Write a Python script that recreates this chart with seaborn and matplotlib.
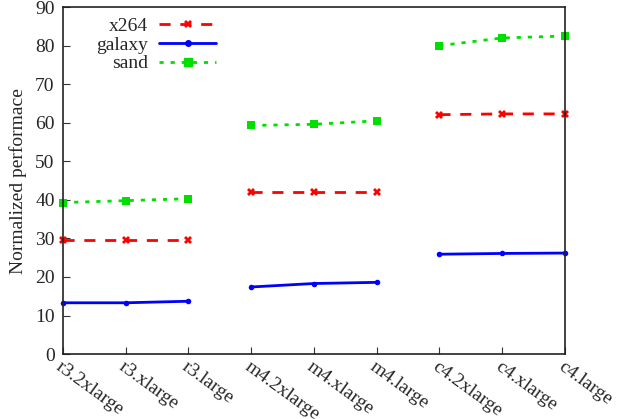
import pandas as pd
import matplotlib
matplotlib.use("Agg")
import matplotlib.pyplot as plt
import seaborn as sns
from matplotlib.lines import Line2D

# data
instances = ["r3.2xlarge", "r3.xlarge", "r3.large",
             "m4.2xlarge", "m4.xlarge", "m4.large",
             "c4.2xlarge", "c4.xlarge", "c4.large"]
families = ["r3", "r3", "r3", "m4", "m4", "m4", "c4", "c4", "c4"]
x264 = [29.7, 29.7, 29.7, 42.1, 42.1, 42.1, 62.1, 62.3, 62.3]
galaxy = [13.3, 13.3, 13.7, 17.4, 18.3, 18.6, 25.9, 26.1, 26.2]
sand = [39.3, 39.8, 40.3, 59.3, 59.6, 60.5, 80.0, 82.0, 82.5]

rows = []
for name, vals in [("x264", x264), ("galaxy", galaxy), ("sand", sand)]:
    for i, v in enumerate(vals):
        rows.append({"pos": i, "family": families[i], "bench": name, "value": v})
df = pd.DataFrame(rows)

colors = {"x264": "#ff0000", "galaxy": "#0000ff", "sand": "#00e000"}
dashes = {"x264": (4, 3.5), "galaxy": "", "sand": (1.5, 2.5)}
markers = {"x264": "X", "galaxy": "o", "sand": "s"}

sns.set_style("ticks")
plt.rcParams["font.family"] = ["Liberation Serif", "DejaVu Serif"]
FS = 14

fig, ax = plt.subplots(figsize=(6.18, 4.19), dpi=100)
fig.subplots_adjust(left=0.102, right=0.914, top=0.983, bottom=0.155)

sns.lineplot(data=df, x="pos", y="value", hue="bench", style="bench",
             units="family", estimator=None, palette=colors, dashes=dashes,
             markers=markers, markersize=6, linewidth=2, markeredgewidth=0,
             legend=False, ax=ax, clip_on=False)

# smaller dots for galaxy
for ln in ax.lines:
    if ln.get_color() in ("#0000ff", (0.0, 0.0, 1.0, 1.0)):
        ln.set_markersize(4)

ax.set_xlim(0, 8)
ax.set_ylim(0, 90)
ax.set_xticks(range(len(instances)))
ax.set_xticklabels(instances, rotation=-36, ha="left", va="top",
                   rotation_mode="anchor", fontsize=FS)
ax.set_yticks(range(0, 91, 10))
ax.tick_params(axis="y", labelsize=FS, pad=6)
ax.tick_params(axis="x", pad=3)
ax.tick_params(direction="in", length=5, width=0.8, color="#333333")
ax.set_xlabel("")
ax.set_ylabel("Normalized performace", fontsize=FS, labelpad=6)
for s in ax.spines.values():
    s.set_linewidth(1.2)
    s.set_color("#222222")

handles = [
    Line2D([], [], color=colors["x264"], dashes=dashes["x264"], lw=2,
           marker="X", markersize=6, markeredgewidth=0),
    Line2D([], [], color=colors["galaxy"], lw=2, marker="o", markersize=4),
    Line2D([], [], color=colors["sand"], dashes=dashes["sand"], lw=2,
           marker="s", markersize=6),
]
leg = ax.legend(handles, ["x264", "galaxy", "sand"], loc="upper left",
                bbox_to_anchor=(0.048, 0.995), frameon=False, markerfirst=False,
                handlelength=2.9, fontsize=FS, labelspacing=0.05,
                borderaxespad=0.05, handletextpad=0.6)
for t in leg.get_texts():
    t.set_ha("right")
leg._legend_box.align = "right"

fig.savefig("out.png", dpi=100)
